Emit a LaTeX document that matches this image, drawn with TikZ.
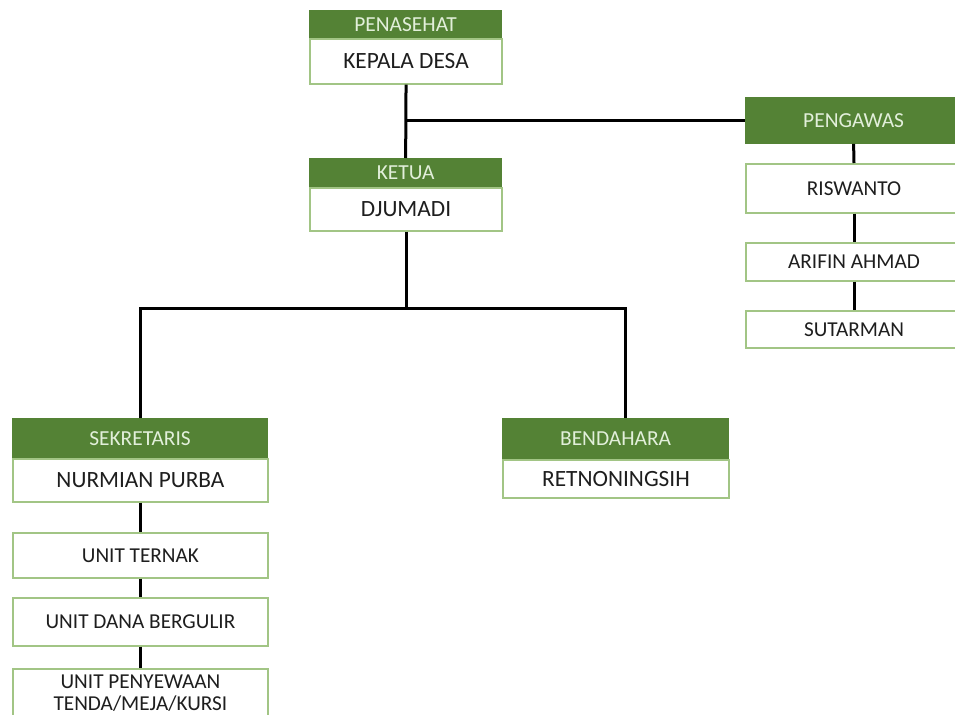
\documentclass[tikz,border=0pt]{standalone}
\usepackage{fontspec}
\setmainfont{Carlito}
\definecolor{hdr}{HTML}{548235}
\definecolor{hdrtxt}{HTML}{E2EFDA}
\definecolor{bord}{HTML}{A2C585}
\definecolor{ink}{HTML}{1E1E1E}
\begin{document}
\begin{tikzpicture}[x=1bp,y=-1bp,
  hbox/.style={fill=hdr, draw=hdr, line width=1bp, text=hdrtxt, font=\fontsize{21.5}{22}\selectfont, inner sep=0pt, anchor=north west},
  nbox/.style={fill=white, draw=bord, line width=1.8bp, text=ink, inner sep=0pt, anchor=north west},
  big/.style={font=\fontsize{23.4}{26}\selectfont},
  small/.style={font=\fontsize{21.3}{22}\selectfont},
  conn/.style={line width=3bp, black}]
\useasboundingbox (0,0) rectangle (955,715);
\clip (0,0) rectangle (955,715);
\fill[white] (0,0) rectangle (955,715);
\node[hbox, minimum width=193, minimum height=28] (penasehat) at (309,10) {PENASEHAT};
\node[nbox, big, minimum width=193, minimum height=45] (kades) at (309,38) {KEPALA DESA};
\node[hbox, minimum width=193, minimum height=29] (ketua) at (309,158) {KETUA};
\node[nbox, big, minimum width=193, minimum height=43] (djumadi) at (309,187) {DJUMADI};
\node[hbox, minimum width=217, minimum height=46] (pengawas) at (745,97) {PENGAWAS};
\node[nbox, small, minimum width=217, minimum height=49] (riswanto) at (745,163) {RISWANTO};
\node[nbox, small, minimum width=217, minimum height=38] (arifin) at (745,242) {ARIFIN AHMAD};
\node[nbox, small, minimum width=217, minimum height=37] (sutarman) at (745,310) {SUTARMAN};
\node[hbox, minimum width=256, minimum height=40] (sekretaris) at (12,418) {SEKRETARIS};
\node[nbox, big, minimum width=256, minimum height=43] (nurmian) at (12,458) {NURMIAN PURBA};
\node[nbox, small, minimum width=256, minimum height=45] (ternak) at (12,532) {UNIT TERNAK};
\node[nbox, small, minimum width=256, minimum height=48] (dana) at (12,597) {UNIT DANA BERGULIR};
\node[nbox, small, minimum width=256, minimum height=48, align=center] (sewa) at (12,668) {UNIT PENYEWAAN\\TENDA/MEJA/KURSI};
\node[hbox, minimum width=227, minimum height=41] (bendahara) at (502,418) {BENDAHARA};
\node[nbox, big, minimum width=227, minimum height=38] (retno) at (502,459) {RETNONINGSIH};
% connectors
\draw[conn] (kades.south) -- (ketua.north);
\draw[conn] (kades.south |- pengawas.west) -- (pengawas.west);
\path (djumadi.south) ++(0,77) coordinate (hub);
\draw[conn] (djumadi.south) -- (hub);
\draw[conn] (sekretaris.north) |- (hub) -| ([xshift=9.5bp]bendahara.north);
\draw[conn] (nurmian.south) -- (ternak.north);
\draw[conn] (ternak.south) -- (dana.north);
\draw[conn] (dana.south) -- (sewa.north);
\draw[conn] (pengawas.south) -- (riswanto.north);
\draw[conn] (riswanto.south) -- (arifin.north);
\draw[conn] (arifin.south) -- (sutarman.north);
\end{tikzpicture}
\end{document}
